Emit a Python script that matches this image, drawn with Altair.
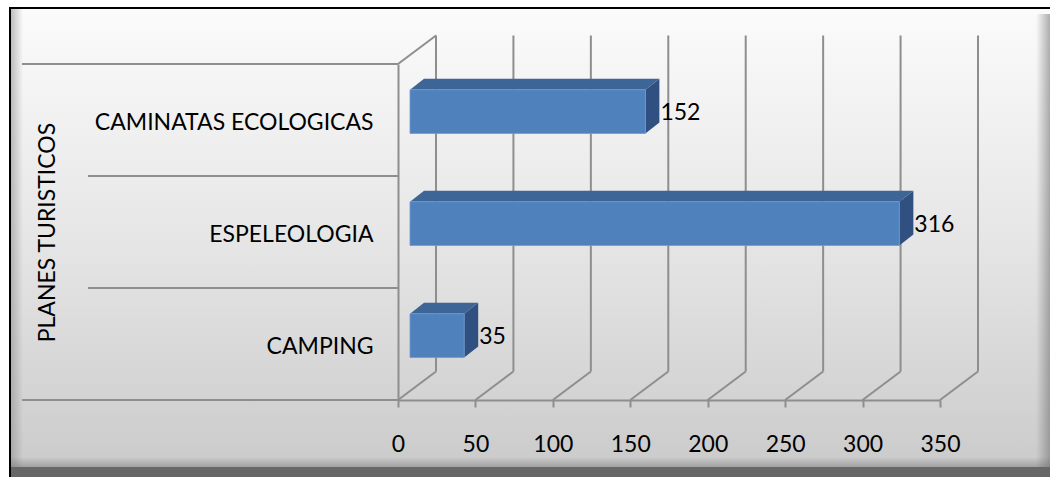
import altair as alt
import pandas as pd

# ---------------- data ----------------
categories = ["CAMPING", "ESPELEOLOGIA", "CAMINATAS ECOLOGICAS"]
values = [35, 316, 152]
x_ticks = [0, 50, 100, 150, 200, 250, 300, 350]
axis_title = "PLANES TURISTICOS"

# ---------------- geometry / style ----------------
W, H = 542, 336
XMAX = 350
NCAT = len(categories)
PX = W / XMAX              # px per value unit
PY = H / NCAT              # px per category band
BAR_LO, BAR_HI = 0.38, 0.77
DEPTH_X, DEPTH_Y = 14, 11  # bar depth in px
dxu = DEPTH_X / PX
dyu = DEPTH_Y / PY
BAR_SHIFT = 12
BACK_DX, BACK_DY = 38, -28.5
FONT = "Lato"
FS = 23
GRID = "#8e8e8e"
FRONT = "#4F81BD"
TOP = "#3D6595"
SIDE = "#2F5080"

xs = alt.Scale(domain=[0, XMAX], nice=False, zero=False)
ys = alt.Scale(domain=[0, NCAT], nice=False, zero=False)

bars = pd.DataFrame({"cat": categories, "idx": list(range(NCAT)), "value": values})
bars["y0"] = bars["idx"] + BAR_LO
bars["y1"] = bars["idx"] + BAR_HI
bars["zero"] = 0
bars["ylab"] = bars["idx"] + 0.56

top_rows, side_rows = [], []
for c, i, v in zip(categories, range(NCAT), values):
    top_rows.append({"cat": c, "y": i + BAR_HI, "xa": 0, "xb": v})
    top_rows.append({"cat": c, "y": i + BAR_HI + dyu, "xa": dxu, "xb": v + dxu})
    side_rows.append({"cat": c, "x": v, "ya": i + BAR_LO, "yb": i + BAR_HI})
    side_rows.append({"cat": c, "x": v + dxu, "ya": i + BAR_LO + dyu, "yb": i + BAR_HI + dyu})
top_df = pd.DataFrame(top_rows)
side_df = pd.DataFrame(side_rows)

ticks_df = pd.DataFrame({"v": x_ticks, "y0": 0, "y1": NCAT})
bounds_outer = pd.DataFrame({"b": [0, NCAT]})
bounds_inner = pd.DataFrame({"b": list(range(1, NCAT))})
one = pd.DataFrame({"a": [0]})

label_expr = "[" + ",".join("'" + c + "'" for c in categories) + "][floor(datum.value)]"

# shared axes (identical in every layer so they merge)
AX = alt.Axis(
    values=x_ticks, grid=False, title=None, domain=True, domainColor=GRID, domainWidth=2,
    ticks=True, tickSize=7, tickColor=GRID, tickWidth=2, labelPadding=26,
    labelFont=FONT, labelFontSize=FS, labelColor="#000000", labelFlush=False,
    zindex=1,
)
AY = alt.Axis(
    values=[i + 0.5 for i in range(NCAT)], labelExpr=label_expr, grid=False,
    ticks=False, domain=True, domainColor=GRID, domainWidth=2,
    labelPadding=25, labelFont=FONT, labelFontSize=FS, labelColor="#000000",
    labelBaseline="middle", labelOffset=2, labelFlush=False, labelLimit=500,
    title=axis_title, titleFont=FONT, titleFontSize=FS, titleFontWeight="normal",
    titleColor="#000000", titleAngle=270, titleX=-351, titleY=H / 2,
    titleAlign="center", titleBaseline="middle", titleLimit=600, zindex=1,
)

def X(f, **kw):
    return alt.X(f, scale=xs, axis=AX, **kw)

def Y(f, **kw):
    return alt.Y(f, scale=ys, axis=AY, **kw)

# ---------------- background frame ----------------
def grad(stops, horizontal=False):
    return alt.Gradient(
        gradient="linear",
        stops=[alt.GradientStop(color=c, offset=o) for o, c in stops],
        x1=0, y1=0, x2=1 if horizontal else 0, y2=0 if horizontal else 1,
    )

def rect(x1, x2, y1, y2, fill):
    return alt.Chart(one).mark_rect(fill=fill, strokeWidth=0).encode(
        x=alt.value(x1), x2=alt.value(x2), y=alt.value(y1), y2=alt.value(y2)
    )

bg = [
    rect(-389, 660, -57, 420, "#000000"),
    rect(-387, 660, -55, 420, "#676767"),
    rect(-387, 660, -55, 403, grad([(0, "#fbfbfb"), (0.5, "#e6e6e6"), (1, "#cbcbcb")])),
    rect(-387, -375, -55, 403, grad([(0, "rgba(140,140,140,0.55)"), (1, "rgba(140,140,140,0)")], True)),
    rect(638, 652, -50, 403, grad([(0, "rgba(110,110,110,0)"), (1, "rgba(110,110,110,0.55)")], True)),
    rect(-387, 660, 393, 403, grad([(0, "rgba(110,110,110,0)"), (1, "rgba(110,110,110,0.45)")])),
]

# ---------------- 3D frame ----------------
left_outer = alt.Chart(bounds_outer).mark_rule(color=GRID, strokeWidth=2).encode(
    y=Y("b:Q"), x=alt.value(-376), x2=alt.value(0)
)
left_inner = alt.Chart(bounds_inner).mark_rule(color=GRID, strokeWidth=2).encode(
    y=Y("b:Q"), x=alt.value(-310), x2=alt.value(0)
)
back_grid = alt.Chart(ticks_df).mark_rule(
    color=GRID, strokeWidth=2, xOffset=BACK_DX, x2Offset=BACK_DX, yOffset=BACK_DY, y2Offset=BACK_DY
).encode(x=X("v:Q"), y=Y("y0:Q"), y2="y1:Q")
floor_diag = alt.Chart(ticks_df).mark_rule(
    color=GRID, strokeWidth=2, x2Offset=BACK_DX, y2Offset=BACK_DY
).encode(x=X("v:Q"), x2="v:Q", y=Y("y0:Q"), y2="y0:Q")
wall_top = alt.Chart(pd.DataFrame({"v": [0], "y": [NCAT]})).mark_rule(
    color=GRID, strokeWidth=2, x2Offset=BACK_DX, y2Offset=BACK_DY
).encode(x=X("v:Q"), x2="v:Q", y=Y("y:Q"), y2="y:Q")

# ---------------- bars ----------------
top_face = alt.Chart(top_df).mark_area(
    orient="horizontal", color=TOP, xOffset=BAR_SHIFT, x2Offset=BAR_SHIFT
).encode(y=Y("y:Q"), x=X("xa:Q", stack=None), x2="xb:Q", detail="cat:N")
side_face = alt.Chart(side_df).mark_area(
    orient="vertical", color=SIDE, xOffset=BAR_SHIFT, x2Offset=BAR_SHIFT
).encode(x=X("x:Q"), y=Y("ya:Q", stack=None), y2="yb:Q", detail="cat:N")
front = alt.Chart(bars).mark_bar(
    color=FRONT, stroke="#6f9ad0", strokeWidth=0.8, xOffset=BAR_SHIFT, x2Offset=BAR_SHIFT
).encode(x=X("zero:Q"), x2="value:Q", y=Y("y0:Q"), y2="y1:Q")
labels = alt.Chart(bars).mark_text(
    align="left", baseline="middle", dx=27, font=FONT, fontSize=FS, color="#000000"
).encode(x=X("value:Q"), y=Y("ylab:Q"), text="value:Q")

chart = alt.layer(
    *bg, left_outer, left_inner, back_grid, floor_diag, wall_top,
    side_face, top_face, front, labels,
).properties(
    width=W, height=H,
    padding={"left": 398, "top": 64, "right": 1050 - 398 - W, "bottom": 477 - 64 - H},
    autosize=alt.AutoSizeParams(type="none"),
    background="#ffffff",
).configure_view(strokeWidth=0)

chart.save("out.html", embed_options={"renderer": "svg", "actions": False})
